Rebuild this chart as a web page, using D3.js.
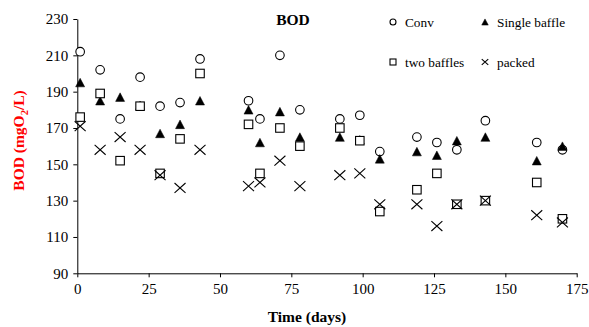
<!DOCTYPE html>
<html>
<head>
<meta charset="utf-8">
<script src="https://d3js.org/d3.v7.min.js"></script>
<style>
body { margin: 0; background: #fff; }
text { font-family: "Liberation Serif", "Times New Roman", serif; }
</style>
</head>
<body>
<div id="chart"></div>
<script>
// sampling days (same for every reactor)
var days = [1, 8, 15, 22, 29, 36, 43, 60, 64, 71, 78, 92, 99, 106, 119, 126, 133, 143, 161, 170];

// BOD values
var conv        = [212, 202, 175, 198, 182, 184, 208, 185, 175, 210, 180, 175, 177, 157, 165, 162, 158, 174, 162, 158];
var singleBaffle = [195, 185, 187, 182.5, 167, 172, 185, 180, 162, 179, 165, 165, 163.5, 153, 157, 155, 163, 165, 152, 160];
var twoBaffles  = [176, 189, 152, 182, 145, 164, 200, 172, 145, 170, 160, 170, 163, 124, 136, 145, 128, 130, 140, 120];
var packed      = [171, 158, 165, 158, 144, 137, 158, 138, 140, 152, 138, 144, 145, 128, 128, 116, 128, 130, 122, 118];

var xTicks = [0, 25, 50, 75, 100, 125, 150, 175];
var yTicks = [90, 110, 130, 150, 170, 190, 210, 230];

var W = 589, H = 327;

var svg = d3.select("#chart").append("svg")
  .attr("width", W)
  .attr("height", H);

var x = d3.scaleLinear().domain([0, 175]).range([77.3, 576.7]);
var y = d3.scaleLinear().domain([90, 230]).range([273.3, 19]);

// axes
var xAxis = svg.append("g")
  .attr("transform", "translate(0," + y(90) + ")")
  .call(d3.axisBottom(x).tickValues(xTicks).tickSize(4).tickSizeOuter(0).tickPadding(6));
var yAxis = svg.append("g")
  .attr("transform", "translate(" + x(0) + ",0)")
  .call(d3.axisLeft(y).tickValues(yTicks).tickSize(4).tickSizeOuter(0).tickPadding(5));

[xAxis, yAxis].forEach(function(a) {
  a.selectAll("path").attr("stroke", "#000").attr("stroke-width", 1);
  a.selectAll("line").attr("stroke", "#000").attr("stroke-width", 1);
  a.selectAll("text")
    .attr("fill", "#000")
    .style("font-family", "'Liberation Serif', serif")
    .style("font-size", "15px");
});

// marker drawers
function circleMark(g, cx, cy, r) {
  g.append("circle").attr("cx", cx).attr("cy", cy).attr("r", r)
    .attr("fill", "#fff").attr("stroke", "#000").attr("stroke-width", 1.1);
}
function triMark(g, cx, cy, s) {
  var h = s * 0.95;
  g.append("path")
    .attr("d", "M" + cx + "," + (cy - h / 2) + "L" + (cx + s / 2) + "," + (cy + h / 2) + "L" + (cx - s / 2) + "," + (cy + h / 2) + "Z")
    .attr("fill", "#000").attr("stroke", "#000").attr("stroke-width", 0.5);
}
function squareMark(g, cx, cy, s) {
  g.append("rect").attr("x", cx - s / 2).attr("y", cy - s / 2).attr("width", s).attr("height", s)
    .attr("fill", "#fff").attr("stroke", "#000").attr("stroke-width", 1.1);
}
function xMark(g, cx, cy, s) {
  var w = s / 2, h = s * 0.45;
  g.append("path")
    .attr("d", "M" + (cx - w) + "," + (cy - h) + "L" + (cx + w) + "," + (cy + h) +
               "M" + (cx - w) + "," + (cy + h) + "L" + (cx + w) + "," + (cy - h))
    .attr("stroke", "#000").attr("stroke-width", 1.1).attr("fill", "none");
}

var series = [
  { name: "Conv", values: conv, draw: function(g, cx, cy) { circleMark(g, cx, cy, 4.3); }, leg: function(g, cx, cy) { circleMark(g, cx, cy, 3); } },
  { name: "Single baffle", values: singleBaffle, draw: function(g, cx, cy) { triMark(g, cx, cy, 9); }, leg: function(g, cx, cy) { triMark(g, cx, cy, 6.5); } },
  { name: "two baffles", values: twoBaffles, draw: function(g, cx, cy) { squareMark(g, cx, cy, 8.5); }, leg: function(g, cx, cy) { squareMark(g, cx, cy, 6); } },
  { name: "packed", values: packed, draw: function(g, cx, cy) { xMark(g, cx, cy, 11); }, leg: function(g, cx, cy) { xMark(g, cx, cy, 6.5); } }
];

series.forEach(function(s) {
  var g = svg.append("g");
  s.values.forEach(function(v, i) {
    s.draw(g, x(days[i]), y(v));
  });
});

// legend
var legPos = [[393, 22], [485, 22], [393, 62], [485, 62]];
series.forEach(function(s, i) {
  var g = svg.append("g");
  s.leg(g, legPos[i][0], legPos[i][1]);
  g.append("text")
    .attr("x", legPos[i][0] + 12)
    .attr("y", legPos[i][1] + 4.5)
    .style("font-size", "13.3px")
    .text(s.name);
});

// title
svg.append("text")
  .attr("x", 293)
  .attr("y", 24.5)
  .attr("text-anchor", "middle")
  .style("font-size", "15.5px")
  .style("font-weight", "bold")
  .text("BOD");

// x label
svg.append("text")
  .attr("x", 307)
  .attr("y", 321.7)
  .attr("text-anchor", "middle")
  .style("font-size", "15.5px")
  .style("font-weight", "bold")
  .text("Time (days)");

// y label
var yl = svg.append("text")
  .attr("transform", "translate(24,140.5) rotate(-90)")
  .attr("text-anchor", "middle")
  .attr("fill", "#ff0000")
  .style("font-size", "15.5px")
  .style("font-weight", "bold");
yl.append("tspan").text("BOD (mgO");
yl.append("tspan").attr("dy", 4).style("font-size", "10.5px").text("2");
yl.append("tspan").attr("dy", -4).text("/L)");
</script>
</body>
</html>
